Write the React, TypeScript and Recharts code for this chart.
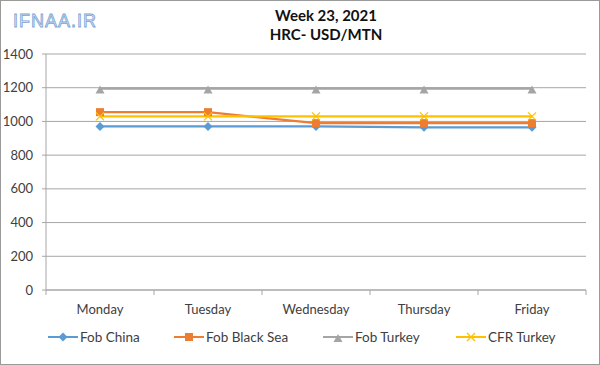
import React from 'react';
import { CartesianGrid, Line, LineChart, XAxis, YAxis } from 'recharts';

const days = ['Monday', 'Tuesday', 'Wednesday', 'Thursday', 'Friday'];
const fobChina = [970, 970, 970, 965, 965];
const fobBlackSea = [1055, 1055, 990, 990, 990];
const fobTurkey = [1195, 1195, 1195, 1195, 1195];
const cfrTurkey = [1030, 1030, 1030, 1030, 1030];
const yTicks = [0, 200, 400, 600, 800, 1000, 1200, 1400];

const rows = days.map((day, i) => ({
  day,
  fobChina: fobChina[i],
  fobBlackSea: fobBlackSea[i],
  fobTurkey: fobTurkey[i],
  cfrTurkey: cfrTurkey[i],
}));

const FONT = 'Lato, "Open Sans", sans-serif';
const GRID = '#a6a6a6';
const HALF_BAND = 54;

const BLUE = '#5b9bd5';
const ORANGE = '#ed7d31';
const GREY = '#a5a5a5';
const YELLOW = '#ffc000';

type Shape = 'diamond' | 'square' | 'triangle' | 'cross';

function Marker({ cx, cy, shape, color }: { cx: number; cy: number; shape: Shape; color: string }) {
  if (shape === 'diamond')
    return <path d={`M${cx},${cy - 4.5}L${cx + 4.5},${cy}L${cx},${cy + 4.5}L${cx - 4.5},${cy}Z`} fill={color} />;
  if (shape === 'square') return <rect x={cx - 4} y={cy - 4} width={8} height={8} fill={color} />;
  if (shape === 'triangle')
    return <path d={`M${cx},${cy - 3}L${cx + 4.5},${cy + 5}L${cx - 4.5},${cy + 5}Z`} fill={color} />;
  return (
    <path
      d={`M${cx - 4},${cy - 4}L${cx + 4},${cy + 4}M${cx + 4},${cy - 4}L${cx - 4},${cy + 4}`}
      stroke={color}
      strokeWidth={1.3}
      fill="none"
    />
  );
}

const dotFor = (shape: Shape, color: string) => (props: any) =>
  <Marker key={`${shape}-${props.index}`} cx={props.cx} cy={props.cy} shape={shape} color={color} />;

function DayTick(props: any) {
  const { x, y, payload, index } = props;
  return (
    <g>
      <line x1={x - HALF_BAND} y1={y} x2={x - HALF_BAND} y2={y + 5} stroke={GRID} />
      {index === days.length - 1 && <line x1={x + HALF_BAND} y1={y} x2={x + HALF_BAND} y2={y + 5} stroke={GRID} />}
      <text x={x} y={y + 24} textAnchor="middle" fontSize={13} fill="#404040" fontFamily={FONT}>
        {payload.value}
      </text>
    </g>
  );
}

const legendItems: { name: string; color: string; shape: Shape; left: number }[] = [
  { name: 'Fob China', color: BLUE, shape: 'diamond', left: 48 },
  { name: 'Fob Black Sea', color: ORANGE, shape: 'square', left: 174 },
  { name: 'Fob Turkey', color: GREY, shape: 'triangle', left: 323 },
  { name: 'CFR Turkey', color: YELLOW, shape: 'cross', left: 456 },
];

export default function App() {
  return (
    <div style={{ position: 'absolute', left: 0, top: 0, width: 600, height: 365, background: '#fff', fontFamily: FONT }}>
      <LineChart width={600} height={365} data={rows} margin={{ top: 54, right: 14, bottom: 45, left: 0 }}>
        <CartesianGrid vertical={false} stroke={GRID} />
        <XAxis
          dataKey="day"
          padding={{ left: HALF_BAND, right: HALF_BAND }}
          tickLine={false}
          tickSize={0}
          tickMargin={0}
          height={30}
          axisLine={{ stroke: GRID }}
          tick={<DayTick />}
          interval={0}
        />
        <YAxis
          width={46}
          domain={[0, 1400]}
          ticks={yTicks}
          interval={0}
          tickSize={4}
          tickMargin={9}
          axisLine={{ stroke: GRID }}
          tickLine={{ stroke: GRID }}
          tick={{ fontSize: 13, fill: '#404040', fontFamily: FONT }}
        />
        <Line dataKey="fobChina" stroke={BLUE} strokeWidth={2.25} dot={dotFor('diamond', BLUE)} isAnimationActive={false} />
        <Line dataKey="fobBlackSea" stroke={ORANGE} strokeWidth={2.25} dot={dotFor('square', ORANGE)} isAnimationActive={false} />
        <Line dataKey="fobTurkey" stroke={GREY} strokeWidth={2.5} dot={dotFor('triangle', GREY)} isAnimationActive={false} />
        <Line dataKey="cfrTurkey" stroke={YELLOW} strokeWidth={2.25} dot={dotFor('cross', YELLOW)} isAnimationActive={false} />
      </LineChart>

      <div style={{ position: 'absolute', left: 0, width: 600, top: 6, textAlign: 'center', paddingLeft: 52, boxSizing: 'border-box', fontWeight: 700, fontSize: 15, lineHeight: '19px', color: '#111' }}>
        <div>Week 23, 2021</div>
        <div>HRC- USD/MTN</div>
      </div>

      <div style={{ position: 'absolute', left: 13, top: 11, fontSize: 18, letterSpacing: 1, color: '#dce9f6', WebkitTextStroke: '0.8px #7aa6d4', fontFamily: 'Liberation Sans, Arial, sans-serif' }}>
        IFNAA.IR
      </div>

      {legendItems.map((it) => (
        <div key={it.name} style={{ position: 'absolute', left: it.left, top: 329, height: 16, display: 'flex', alignItems: 'center', fontSize: 13.5, color: '#404040' }}>
          <svg width={30} height={12} style={{ marginRight: 2 }}>
            <line x1={0} y1={6} x2={30} y2={6} stroke={it.color} strokeWidth={2} />
            <Marker cx={15} cy={6} shape={it.shape} color={it.color} />
          </svg>
          <span>{it.name}</span>
        </div>
      ))}

      <div style={{ position: 'absolute', inset: 0, border: '1px solid #9a9a9a', pointerEvents: 'none' }} />
    </div>
  );
}
